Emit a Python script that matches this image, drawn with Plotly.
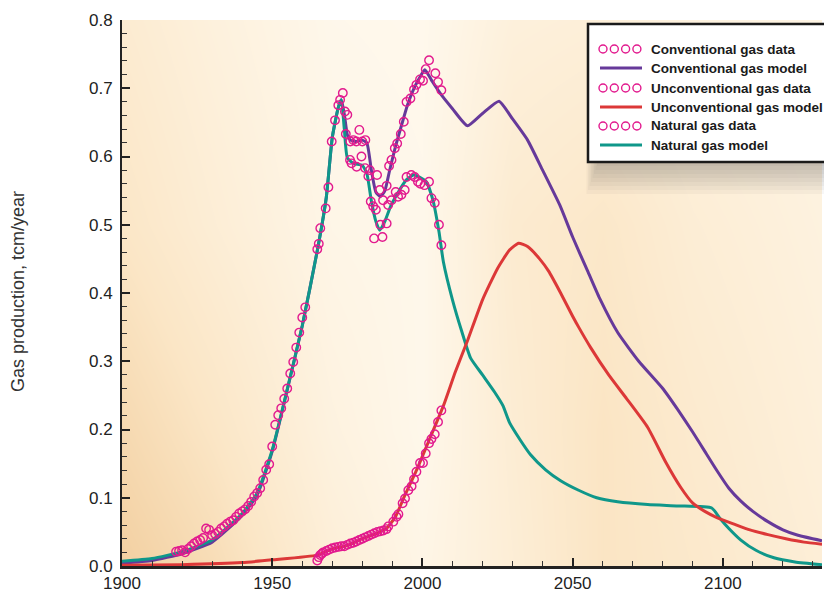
import plotly.graph_objects as go

# ---- observed production (tcm/year) ----
conv_years = [1918, 1919, 1920, 1921, 1922, 1923, 1924, 1925, 1926, 1927, 1928, 1929, 1930,
              1931, 1932, 1933, 1934, 1935, 1936, 1937, 1938, 1939, 1940, 1941, 1942, 1943,
              1944, 1945, 1946, 1947, 1948, 1949, 1950, 1951, 1952, 1953, 1954, 1955, 1956,
              1957, 1958, 1959, 1960, 1961, 1965, 1965.5, 1966, 1967.8, 1968.7, 1969.8,
              1970.9, 1972, 1972.6, 1973.5, 1974.2, 1975, 1976, 1977, 1978, 1979, 1980,
              1981, 1982.5, 1984.9, 1985.8, 1986.9, 1988.1, 1988.9, 1989.7, 1990.8, 1991.6,
              1992.8, 1993.8, 1994.7, 1996, 1997.2, 1998, 1999.2, 2000.2, 2001.1, 2002.2,
              2004.3, 2005.2, 2006.3]
conv_vals = [0.021, 0.022, 0.023, 0.020, 0.025, 0.029, 0.033, 0.036, 0.038, 0.041, 0.055,
             0.053, 0.045, 0.047, 0.050, 0.055, 0.058, 0.062, 0.065, 0.067, 0.072, 0.077,
             0.080, 0.083, 0.088, 0.094, 0.102, 0.107, 0.114, 0.126, 0.141, 0.149, 0.175,
             0.207, 0.221, 0.231, 0.245, 0.260, 0.282, 0.299, 0.320, 0.342, 0.364, 0.379,
             0.464, 0.472, 0.495, 0.524, 0.555, 0.622, 0.653, 0.675, 0.683, 0.693, 0.666,
             0.661, 0.622, 0.624, 0.622, 0.639, 0.622, 0.624, 0.580, 0.573, 0.551, 0.536,
             0.557, 0.586, 0.595, 0.612, 0.619, 0.633, 0.651, 0.680, 0.685, 0.698, 0.705,
             0.713, 0.711, 0.728, 0.741, 0.722, 0.709, 0.697]

unconv_years = [1965, 1965.5, 1966, 1966.5, 1967, 1968, 1969, 1970, 1971, 1972, 1973, 1974,
                1975, 1976, 1977, 1978, 1979, 1980, 1981, 1982, 1983, 1984, 1985, 1986,
                1987, 1988, 1988.6, 1990.3, 1991.4, 1992, 1993.4, 1994.2, 1995.3, 1996.4,
                1997.2, 1998, 1999.2, 2000.2, 2001.1, 2002.2, 2003, 2004.1, 2005.2, 2006.3]
unconv_vals = [0.008, 0.013, 0.016, 0.018, 0.020, 0.022, 0.024, 0.026, 0.027, 0.028, 0.029,
               0.029, 0.031, 0.033, 0.034, 0.036, 0.038, 0.040, 0.042, 0.044, 0.046, 0.048,
               0.050, 0.051, 0.052, 0.054, 0.058, 0.065, 0.072, 0.076, 0.092, 0.099, 0.111,
               0.117, 0.127, 0.138, 0.151, 0.151, 0.165, 0.180, 0.186, 0.193, 0.211, 0.228]

nat_years = [1974.5, 1975.9, 1976.4, 1978.1, 1979.7, 1980.9, 1982, 1982.8, 1983.6, 1984.5,
             1983.9, 1986.7, 1986, 1988.1, 1988.6, 1989.7, 1991.1, 1991.9, 1993, 1994.1,
             1994.7, 1996.3, 1997.4, 1998.5, 1999.3, 2000.7, 2002.2, 2003, 2004.1, 2005.5,
             2006.3]
nat_vals = [0.633, 0.595, 0.590, 0.585, 0.600, 0.583, 0.571, 0.534, 0.527, 0.522, 0.480,
            0.482, 0.500, 0.502, 0.529, 0.536, 0.548, 0.541, 0.544, 0.551, 0.570, 0.573,
            0.570, 0.563, 0.560, 0.558, 0.563, 0.539, 0.532, 0.500, 0.470]

# ---- model curves ----
conv_model_years = [1900, 1910, 1920, 1930, 1940, 1945, 1950, 1955, 1960, 1965, 1968, 1970,
                    1972, 1973, 1974, 1975, 1976, 1978, 1980, 1981.5, 1983, 1984.5, 1986,
                    1987.5, 1989, 1991, 1993, 1995, 1997, 1999, 2000.8, 2003, 2006, 2010,
                    2015, 2020, 2025.5, 2030, 2035, 2040, 2045.7, 2050, 2055, 2059, 2065,
                    2072, 2080, 2085, 2090, 2094, 2098, 2102, 2106, 2110, 2115, 2120, 2125,
                    2133]
conv_model_vals = [0.004, 0.008, 0.018, 0.035, 0.074, 0.104, 0.168, 0.258, 0.352, 0.462,
                   0.54, 0.628, 0.672, 0.683, 0.662, 0.632, 0.624, 0.622, 0.624, 0.620,
                   0.580, 0.548, 0.541, 0.550, 0.578, 0.614, 0.645, 0.675, 0.698, 0.715,
                   0.727, 0.712, 0.692, 0.670, 0.645, 0.663, 0.681, 0.655, 0.624, 0.580,
                   0.529, 0.482, 0.432, 0.392, 0.342, 0.300, 0.260, 0.229, 0.196, 0.168,
                   0.140, 0.114, 0.095, 0.080, 0.065, 0.053, 0.045, 0.037]

unconv_model_years = [1900, 1920, 1940, 1950, 1965, 1970, 1975, 1980, 1985, 1988, 1991,
                      1994, 1998, 2002, 2007, 2011, 2015, 2020, 2025, 2029, 2032, 2035,
                      2039, 2042, 2046, 2050, 2052, 2056, 2062, 2068, 2075, 2081, 2086,
                      2090, 2094, 2098, 2104, 2109, 2115, 2121, 2127, 2133]
unconv_model_vals = [0.001, 0.002, 0.005, 0.009, 0.016, 0.025, 0.030, 0.040, 0.048, 0.055,
                     0.072, 0.102, 0.140, 0.182, 0.235, 0.285, 0.330, 0.390, 0.436, 0.463,
                     0.473, 0.468, 0.450, 0.432, 0.400, 0.366, 0.350, 0.320, 0.280, 0.245,
                     0.203, 0.152, 0.115, 0.092, 0.080, 0.071, 0.061, 0.053, 0.046, 0.040,
                     0.035, 0.032]

nat_model_years = [1900, 1910, 1920, 1930, 1940, 1945, 1950, 1955, 1960, 1965, 1968, 1970,
                   1972, 1973, 1974, 1975, 1977, 1980, 1981.5, 1983, 1984.5, 1985.8, 1987.5,
                   1989.5, 1992, 1994.5, 1997, 1999, 2001.3, 2003.5, 2005.5, 2007, 2010,
                   2013, 2016, 2020, 2024, 2026.8, 2029, 2032.5, 2036, 2041, 2046, 2052,
                   2058, 2065, 2075, 2085, 2096.3, 2099, 2102, 2106, 2111, 2117, 2124, 2133]
nat_model_vals = [0.007, 0.011, 0.021, 0.038, 0.077, 0.107, 0.170, 0.259, 0.352, 0.462,
                  0.54, 0.628, 0.672, 0.683, 0.640, 0.598, 0.590, 0.587, 0.575, 0.535,
                  0.505, 0.492, 0.505, 0.528, 0.548, 0.565, 0.573, 0.570, 0.563, 0.536,
                  0.490, 0.445, 0.390, 0.345, 0.305, 0.280, 0.255, 0.235, 0.210, 0.185,
                  0.163, 0.141, 0.125, 0.111, 0.100, 0.094, 0.090, 0.088, 0.085, 0.070,
                  0.055, 0.038, 0.023, 0.012, 0.006, 0.002]

names = ["Conventional gas data", "Conventional gas model", "Unconventional gas data",
         "Unconventional gas model", "Natural gas data", "Natural gas model"]

# background wash (warm tan fading to cream)
bg_x = [1880, 1930, 1970, 2000, 2030, 2060, 2090, 2150]
bg_y = [-0.08, 0.2, 0.5, 0.9]
bg_z = [[1.00, 0.70, 0.33, 0.14, 0.30, 0.52, 0.45, 0.26],
        [0.82, 0.50, 0.20, 0.07, 0.34, 0.52, 0.40, 0.20],
        [0.60, 0.32, 0.11, 0.07, 0.38, 0.46, 0.32, 0.16],
        [0.42, 0.20, 0.05, 0.04, 0.20, 0.22, 0.18, 0.12]]

MAGENTA = "#e21a8e"
PURPLE = "#66399a"
RED = "#dc3838"
GREEN = "#0f978a"

fig = go.Figure()
fig.add_trace(go.Heatmap(x=bg_x, y=bg_y, z=bg_z, zsmooth="best", showscale=False,
                         hoverinfo="skip", zmin=0, zmax=1,
                         colorscale=[[0, "#fffaf0"], [0.5, "#fbe6c6"], [1, "#eec48e"]]))

line_w = 3
fig.add_trace(go.Scatter(x=conv_model_years, y=conv_model_vals, mode="lines", name=names[1],
                         line=dict(color=PURPLE, width=line_w, shape="spline", smoothing=0.5)))
fig.add_trace(go.Scatter(x=nat_model_years, y=nat_model_vals, mode="lines", name=names[5],
                         line=dict(color=GREEN, width=line_w, shape="spline", smoothing=0.5)))
fig.add_trace(go.Scatter(x=unconv_model_years, y=unconv_model_vals, mode="lines", name=names[3],
                         line=dict(color=RED, width=line_w, shape="spline", smoothing=0.5)))

mk = dict(symbol="circle-open", size=8.5, color=MAGENTA, line=dict(width=1.4, color=MAGENTA))
fig.add_trace(go.Scatter(x=conv_years, y=conv_vals, mode="markers", name=names[0], marker=mk))
fig.add_trace(go.Scatter(x=unconv_years, y=unconv_vals, mode="markers", name=names[2], marker=mk))
fig.add_trace(go.Scatter(x=nat_years, y=nat_vals, mode="markers", name=names[4], marker=mk))

W, H = 824, 592
L, R, T, B = 122, 2, 20, 26
PW, PH = W - L - R, H - T - B


def px(x):
    return (x - L) / PW


def py(y):
    return (H - B - y) / PH


shapes = []
# soft drop shadow under the legend box
for i in range(10):
    shapes.append(dict(type="rect", xref="paper", yref="paper", layer="above",
                       x0=px(600 - i * 1.5), x1=px(830), y0=py(158 + i * 4), y1=py(40),
                       fillcolor="rgba(80,80,80,0.045)", line=dict(width=0)))
shapes.append(dict(type="rect", xref="paper", yref="paper", layer="above",
                   x0=px(588), x1=px(830), y0=py(162), y1=py(24),
                   fillcolor="white", line=dict(color="#1a1a1a", width=2.5)))

row_y = [49, 68, 88, 107, 126, 145]
annotations = []
legend_font = dict(family="Liberation Sans, Arial, sans-serif", size=13.5, color="#1a1a1a")
for k, (name, yy) in enumerate(zip(names, row_y)):
    if k % 2 == 0:
        for j in range(4):
            cx = 603 + j * 11.3
            shapes.append(dict(type="circle", xref="paper", yref="paper", layer="above",
                               x0=px(cx - 4), x1=px(cx + 4), y0=py(yy + 4), y1=py(yy - 4),
                               line=dict(color=MAGENTA, width=1.4)))
    else:
        col = {1: PURPLE, 3: RED, 5: GREEN}[k]
        shapes.append(dict(type="line", xref="paper", yref="paper", layer="above",
                           x0=px(600), x1=px(642), y0=py(yy), y1=py(yy),
                           line=dict(color=col, width=3)))
    annotations.append(dict(text="<b>" + name + "</b>", xref="paper", yref="paper",
                            x=px(649), y=py(yy), xanchor="left", yanchor="middle",
                            showarrow=False, font=legend_font))

annotations.append(dict(text="Gas production, tcm/year", xref="paper", yref="paper",
                        x=px(18), y=py(292), textangle=-90, showarrow=False,
                        xanchor="center", yanchor="middle",
                        font=dict(family="Liberation Sans, Arial, sans-serif", size=18,
                                  color="#333333")))

tickfont = dict(family="Liberation Sans, Arial, sans-serif", size=17, color="#222222")
fig.update_layout(
    width=W, height=H,
    margin=dict(l=L, r=R, t=T, b=B, autoexpand=False),
    paper_bgcolor="white", plot_bgcolor="#fdf3e2",
    showlegend=False,
    shapes=shapes, annotations=annotations,
    xaxis=dict(range=[1900, 2133], tickvals=[1900, 1950, 2000, 2050, 2100],
               ticks="inside", ticklen=8, tickwidth=1.5, tickcolor="#222",
               showline=True, linewidth=3, linecolor="#222", showgrid=False, zeroline=False,
               tickfont=tickfont, ticklabelstandoff=0,
               minor=dict(ticks="inside", ticklen=5, tickwidth=1.3, tickcolor="#333",
                          tick0=1900, dtick=10, showgrid=False)),
    yaxis=dict(range=[0, 0.8], dtick=0.1, tick0=0, tickformat=".1f",
               ticks="inside", ticklen=8, tickwidth=1.5, tickcolor="#222",
               showline=True, linewidth=2, linecolor="#222", showgrid=False, zeroline=False,
               tickfont=tickfont, ticklabelstandoff=4,
               minor=dict(ticks="inside", ticklen=5, tickwidth=1.3, tickcolor="#333",
                          tick0=0, dtick=0.02, showgrid=False)),
)

fig.write_html("out.html")
